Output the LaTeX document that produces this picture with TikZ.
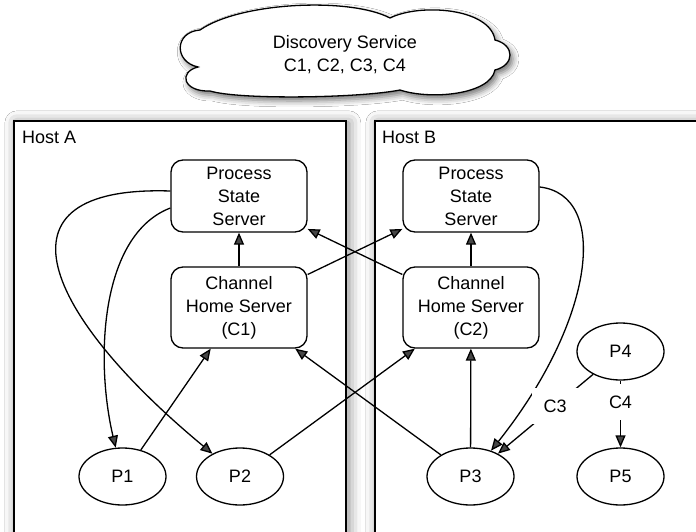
\documentclass[tikz,border=0pt]{standalone}
\usepackage{fontspec}
\setmainfont{Liberation Sans}
\usetikzlibrary{arrows.meta,shapes.geometric,shadows.blur}
\begin{document}
\begin{tikzpicture}[x=1pt,y=-1pt,
  every node/.style={font=\fontsize{18}{23}\selectfont},
  host/.style={draw, line width=1.7pt, fill=white, inner sep=0pt,
    blur shadow={shadow xshift=3pt, shadow yshift=-2pt, shadow blur radius=12pt, shadow opacity=50}},
  server/.style={draw, line width=1.3pt, rounded corners=12pt, minimum width=136pt, align=center, fill=white, inner sep=2pt},
  proc/.style={draw, ellipse, line width=1.3pt, minimum width=87pt, minimum height=57pt, inner sep=0pt, fill=white},
  arr/.style={line width=1.3pt, -{Triangle[length=12pt,width=10pt]}},
  lbl/.style={fill=white, inner sep=12pt},
  cloudshape/.style={draw, line width=1.3pt, fill=white,
    blur shadow={shadow xshift=3pt, shadow yshift=-4pt, shadow blur radius=6pt, shadow opacity=55}}
]
\useasboundingbox (0,0) rectangle (696,532);
\clip (0,0) rectangle (696,532);
\fill[white] (0,0) rectangle (696,532);

% hosts
\node[host, minimum width=332pt, minimum height=440pt, anchor=north west] (hostA) at (13,120) {};
\node[host, minimum width=346pt, minimum height=440pt, anchor=north west] (hostB) at (374,120) {};
\node[anchor=west, inner sep=0pt] (hostAl) at (22,137.5) {Host A};
\node[anchor=west, inner sep=0pt] (hostBl) at (382,137.5) {Host B};

% cloud
\path[cloudshape] (198,67) .. controls (174,62) and (174,32) .. (200,30)
  .. controls (240,2) and (350,-3) .. (390,18)
  .. controls (420,3) and (490,8) .. (495,40)
  .. controls (515,45) and (515,65) .. (495,70)
  .. controls (490,95) and (430,100) .. (400,90)
  .. controls (360,98) and (240,100) .. (210,91)
  .. controls (183,92) and (178,72) .. (198,67) -- cycle;
\node[align=center] (disc) at (345,55) {Discovery Service\\C1, C2, C3, C4};

% servers
\node[server, minimum height=72pt] (pssA) at (239,196) {Process\\State\\Server};
\node[server, minimum height=81pt] (chsA) at (239,307.5) {Channel\\Home Server\\(C1)};
\node[server, minimum height=72pt] (pssB) at (471,196) {Process\\State\\Server};
\node[server, minimum height=81pt] (chsB) at (471,307.5) {Channel\\Home Server\\(C2)};

% processes
\node[proc] (p1) at (122.5,476.5) {P1};
\node[proc] (p2) at (240,476.5) {P2};
\node[proc] (p3) at (470.5,476.5) {P3};
\node[proc] (p4) at (620.5,351.5) {P4};
\node[proc] (p5) at (620.5,476.5) {P5};

% connectors
\draw[arr] (chsA) -- (pssA);
\draw[arr] (chsB) -- (pssB);
\draw[arr] (p1) -- (chsA);
\draw[arr] (p2) -- (chsB);
\draw[arr] (p3) -- (chsA);
\draw[arr] (p3) -- (chsB);
\draw[arr] (chsA) -- (pssB);
\draw[arr] (chsB) -- (pssA);
\draw[arr] ([yshift=5pt]pssA.west) .. controls (-15,185) and (45,315) .. (p2);
\draw[arr] ([yshift=-12pt]pssA.west) .. controls (100,235) and (95,360) .. (p1);
\draw[arr] ([yshift=9pt]pssB.east) .. controls (610,195) and (595,320) .. (p3);
\draw[arr] (p4) -- node[lbl, pos=0.4] (c3) {C3} (p3);
\draw[arr] (p4) -- node[lbl, pos=0.32] (c4) {C4} (p5);
\end{tikzpicture}
\end{document}
